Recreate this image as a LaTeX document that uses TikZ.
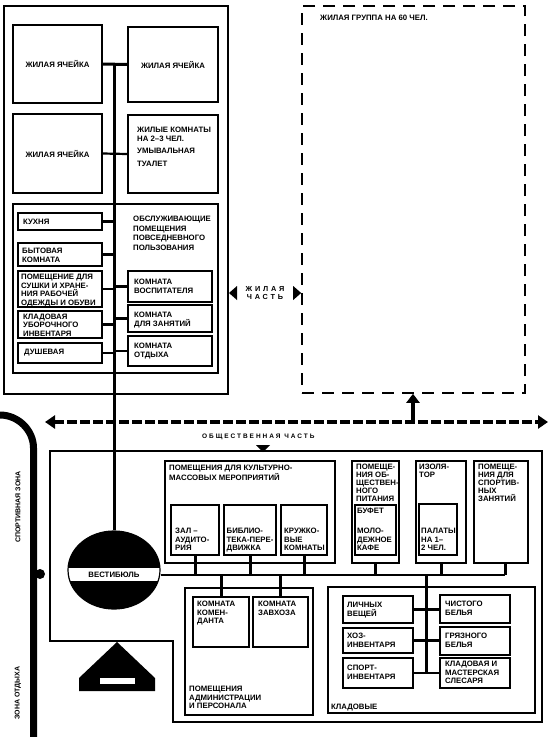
\documentclass[tikz,border=0pt]{standalone}
\usepackage{fontspec}
\setmainfont{Liberation Sans}
\newfontfamily\spacedfont[LetterSpace=30]{Liberation Sans}
\newfontfamily\widefont[LetterSpace=38]{Liberation Sans}
\usetikzlibrary{fit,shapes.geometric,arrows.meta}
\newcommand\lbl{\fontsize{7.8}{8.6}\selectfont\bfseries}
\newcommand\tightlbl{\fontsize{7.8}{8.2}\selectfont\bfseries}
\newcommand\zonelbl{\fontsize{6.5}{8}\selectfont\spacedfont\bfseries}
\newcommand\livelbl{\fontsize{7.3}{8}\selectfont\widefont\bfseries}
\tikzset{
        room/.style={draw=black, line width=1.5pt, inner sep=0pt},
        block/.style={draw=black, line width=2pt, inner sep=0pt},
        groupbox/.style={draw=black, line width=1.6pt, dash pattern=on 12pt off 8pt, inner sep=0pt},
        txt/.style={font=\lbl, align=left, anchor=north west, inner sep=0pt},
        wtxt/.style={font=\lbl, anchor=west, inner sep=0pt},
        ctxt/.style={font=\lbl, anchor=center, inner sep=0pt},
        zonetxt/.style={font=\zonelbl, align=center, inner sep=0pt},
        sidetxt/.style={font=\fontsize{7}{8}\selectfont\bfseries, rotate=90, inner sep=0pt},
        spine/.style={line width=3pt},
        link/.style={line width=2.2pt},
        stub/.style={line width=3pt},
        busline/.style={line width=2.2pt},
        flow/.style={line width=4pt, dash pattern=on 10pt off 3pt, {Triangle[length=10pt,width=13pt]}-{Triangle[length=10pt,width=13pt]}},
        flowup/.style={line width=4pt, -{Triangle[length=9pt,width=13pt]}},
        road/.style={line width=7pt},
        vestibule/.style={ellipse, draw=black, fill=black, line width=1.2pt, minimum width=92pt, minimum height=78pt, inner sep=0pt,
          path picture={\fill[white] ([yshift=2pt]path picture bounding box.west) rectangle ([yshift=-11pt]path picture bounding box.east);}}
          }
\begin{document}
\begin{tikzpicture}[x=1pt, y=-1pt]
  \useasboundingbox (0,0) rectangle (550,737);
  % residential part
  \node[block, fit={(4,6) (228,394)}] (home) {};
  \node[room, fit={(13,25) (102,103)}] (cellA) {};
  \node[room, fit={(128,27) (218,102)}] (cellB) {};
  \node[room, fit={(13,114) (102,193)}] (cellC) {};
  \node[room, fit={(128,115) (218,193)}] (cellD) {};
  \node[ctxt] (cellAtxt) at (cellA) {ЖИЛАЯ ЯЧЕЙКА};
  \node[ctxt] (cellBtxt) at (cellB) {ЖИЛАЯ ЯЧЕЙКА};
  \node[ctxt] (cellCtxt) at (cellC) {ЖИЛАЯ ЯЧЕЙКА};
  \node[txt] (cellDtxt) at (137,127) {ЖИЛЫЕ КОМНАТЫ\\НА 2–3 ЧЕЛ.\\[4pt]УМЫВАЛЬНАЯ\\[4pt]ТУАЛЕТ};
  \node[room, fit={(13,204) (218,373)}] (service) {};
  \node[txt] (servicetxt) at (133,216) {ОБСЛУЖИВАЮЩИЕ\\[1pt]ПОМЕЩЕНИЯ\\[1pt]ПОВСЕДНЕВНОГО\\[1pt]ПОЛЬЗОВАНИЯ};
  \node[room, fit={(18,213) (102,230)}] (kitchen) {};
  \node[room, fit={(18,243) (102,266)}] (household) {};
  \node[room, fit={(18,271) (102,307)}] (drying) {};
  \node[room, fit={(18,311) (102,338)}] (cleaning) {};
  \node[room, fit={(18,343) (102,363)}] (shower) {};
  \node[room, fit={(128,271) (212,302)}] (tutor) {};
  \node[room, fit={(128,305) (212,332)}] (study) {};
  \node[room, fit={(128,336) (212,366)}] (rest) {};
  \node[wtxt] (kitchentxt) at (23,221.5) {КУХНЯ};
  \node[txt] (householdtxt) at (22,248) {БЫТОВАЯ\\КОМНАТА};
  \node[txt] (dryingtxt) at (21,274) {ПОМЕЩЕНИЕ ДЛЯ\\СУШКИ И ХРАНЕ-\\НИЯ РАБОЧЕЙ\\ОДЕЖДЫ И ОБУВИ};
  \node[txt] (cleaningtxt) at (23,313.5) {КЛАДОВАЯ\\УБОРОЧНОГО\\ИНВЕНТАРЯ};
  \node[wtxt] (showertxt) at (24,353) {ДУШЕВАЯ};
  \node[txt] (tutortxt) at (134,279) {КОМНАТА\\ВОСПИТАТЕЛЯ};
  \node[txt] (studytxt) at (134,312) {КОМНАТА\\ДЛЯ ЗАНЯТИЙ};
  \node[txt] (resttxt) at (134,343) {КОМНАТА\\ОТДЫХА};
  \node[groupbox, fit={(302,6) (525,393)}] (grp) {};
  \node[txt] (grptxt) at (320,15) {ЖИЛАЯ ГРУППА НА 60 ЧЕЛ.};
  % zone labels
  \node[font=\livelbl, align=center, inner sep=0pt] (livezone) at (265,293) {ЖИЛАЯ\\ЧАСТЬ};
  \fill (home.east |- livezone) -- ++(8,-7) -- ++(0,14) -- cycle;
  \fill (grp.west |- livezone) -- ++(-8,-7) -- ++(0,14) -- cycle;
  \node[zonetxt, anchor=west] (publiczone) at (202,437) {ОБЩЕСТВЕННАЯ ЧАСТЬ};
  \fill (263,452) -- ++(-7,-7) -- ++(14,0) -- cycle;
  \coordinate (flowL) at (45,422);
  \coordinate (flowR) at (548,422);
  \coordinate (flowUp) at (413,422);
  \draw[flow] (flowL) -- (flowR);
  \draw[flowup] (flowUp) -- (flowUp |- grp.south);
  % public part
  \draw[block] (50,451) -- (542,451) -- (542,722) -- (173,722) -- (173,641) -- (50,641) -- cycle;
  \node[room, fit={(165,461) (335,563)}] (culture) {};
  \node[txt] (culturetxt) at (169,465) {ПОМЕЩЕНИЯ ДЛЯ КУЛЬТУРНО-\\МАССОВЫХ МЕРОПРИЯТИЙ};
  \node[room, fit={(171,505) (219,555)}] (hall) {};
  \node[room, fit={(224,505) (276,555)}] (library) {};
  \node[room, fit={(281,505) (327,555)}] (clubs) {};
  \node[txt] (halltxt) at (175,528) {ЗАЛ –\\АУДИТО-\\РИЯ};
  \node[txt] (librarytxt) at (226.5,528) {БИБЛИО-\\ТЕКА-ПЕРЕ-\\ДВИЖКА};
  \node[txt] (clubstxt) at (284,528) {КРУЖКО-\\ВЫЕ\\КОМНАТЫ};
  \node[room, fit={(352,461) (399,563)}] (food) {};
  \node[txt, font=\tightlbl] (foodtxt) at (356,463.5) {ПОМЕЩЕ-\\НИЯ ОБ-\\ЩЕСТВЕН-\\НОГО\\ПИТАНИЯ};
  \node[room, fit={(355,505) (396,555)}] (cafe) {};
  \node[txt] (buffettxt) at (357,508) {БУФЕТ};
  \node[txt] (cafetxt) at (357,528) {МОЛО-\\ДЕЖНОЕ\\КАФЕ};
  \node[room, fit={(416,461) (466,563)}] (isolator) {};
  \node[txt] (isolatortxt) at (419,463.5) {ИЗОЛЯ-\\ТОР};
  \node[room, fit={(419,504) (457,555)}] (wards) {};
  \node[txt] (wardstxt) at (421,528) {ПАЛАТЫ\\НА 1–\\2 ЧЕЛ.};
  \node[room, fit={(474,461) (528,563)}] (sport) {};
  \node[txt, font=\tightlbl] (sporttxt) at (478,463.5) {ПОМЕЩЕ-\\НИЯ ДЛЯ\\СПОРТИВ-\\НЫХ\\ЗАНЯТИЙ};
  \node[room, fit={(185,588) (313,715)}] (admin) {};
  \node[txt] (admintxt) at (189,686) {ПОМЕЩЕНИЯ\\АДМИНИСТРАЦИИ\\И ПЕРСОНАЛА};
  \node[room, fit={(193,597) (249,647)}] (commandant) {};
  \node[room, fit={(253,597) (308,647)}] (supply) {};
  \node[txt] (commandanttxt) at (197,601) {КОМНАТА\\КОМЕН-\\ДАНТА};
  \node[txt] (supplytxt) at (258,601) {КОМНАТА\\ЗАВХОЗА};
  \node[room, fit={(328,587) (535,713)}] (stores) {};
  \node[txt] (storestxt) at (331,704) {КЛАДОВЫЕ};
  \node[room, fit={(343,596) (413,623)}] (personal) {};
  \node[room, fit={(343,628) (413,653)}] (tools) {};
  \node[room, fit={(343,658) (413,688)}] (sportgear) {};
  \node[room, fit={(440,595) (510,623)}] (cleanlinen) {};
  \node[room, fit={(440,627) (510,655)}] (dirtylinen) {};
  \node[room, fit={(440,658) (510,688)}] (workshop) {};
  \node[txt] (personaltxt) at (347,602) {ЛИЧНЫХ\\ВЕЩЕЙ};
  \node[txt] (toolstxt) at (347,633) {ХОЗ-\\ИНВЕНТАРЯ};
  \node[txt] (sportgeartxt) at (347,665) {СПОРТ-\\ИНВЕНТАРЯ};
  \node[txt] (cleanlinentxt) at (445,601) {ЧИСТОГО\\БЕЛЬЯ};
  \node[txt] (dirtylinentxt) at (445,633) {ГРЯЗНОГО\\БЕЛЬЯ};
  \node[txt] (workshoptxt) at (445,661) {КЛАДОВАЯ И\\МАСТЕРСКАЯ\\СЛЕСАРЯ};
  \node[vestibule] (vest) at (114,570) {};
  \node[ctxt] (vesttxt) at (114,575) {ВЕСТИБЮЛЬ};
  % connections
  \draw[spine] (cellA.east) -- (cellB.west);
  \draw[link] (cellC.east) -- (cellD.west);
  \draw[spine] (vest.north |- cellA.east) -- (vest.north);
  \foreach \r in {kitchen,household,drying,cleaning,shower}
    \draw[link] (\r.east) -- (\r.east -| vest.north);
  \foreach \r in {tutor,study,rest}
    \draw[link] (\r.west) -- (\r.west -| vest.north);
  \coordinate (bus) at (300,575);
  \coordinate (sportstub) at ([xshift=4pt]sport.south);
  \draw[busline] (vest.east |- bus) -- (sportstub |- bus);
  \foreach \r in {hall,library,clubs,food,isolator,sportstub}
    \draw[stub] (\r.south) -- (\r.south |- bus);
  \foreach \r in {commandant,supply}
    \draw[stub] (\r.north) -- (\r.north |- bus);
  \coordinate (storestub) at (426,575);
  \draw[stub] (storestub) -- (storestub |- workshop.west);
  \foreach \r in {personal,tools,sportgear}
    \draw[link] (\r.east) -- (\r.east -| cleanlinen.west);
  % outer zones
  \draw[road] (-5,415) -- (0,415) .. controls (18,415) and (33.5,430) .. (33.5,448) -- (33.5,745);
  \fill (40,574) circle[radius=5];
  \node[sidetxt] (sportzone) at (18,507) {СПОРТИВНАЯ ЗОНА};
  \node[sidetxt] (restzone) at (18,693) {ЗОНА ОТДЫХА};
  \fill (117,642) -- (155,678) -- (155,691) -- (79,691) -- (79,678) -- cycle;
  \fill[white] (100,678) rectangle (135,684);
\end{tikzpicture}
\end{document}
